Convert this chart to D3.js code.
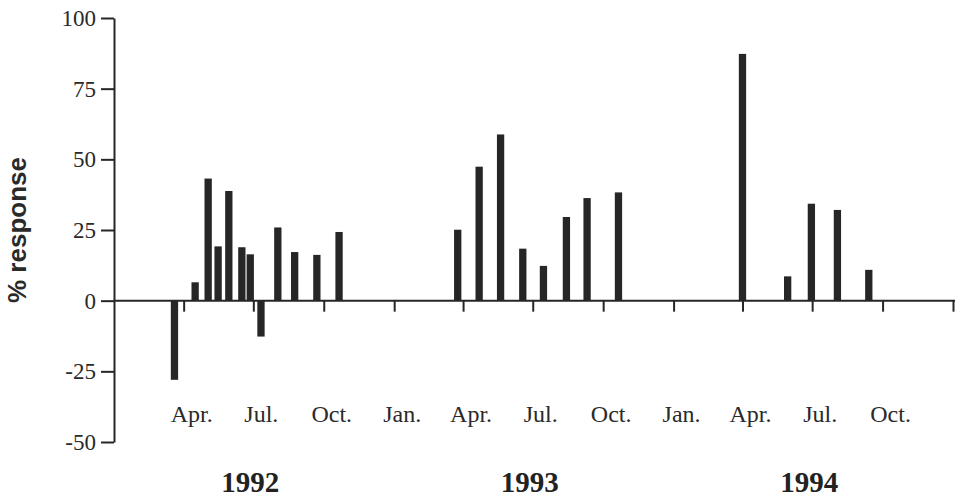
<!DOCTYPE html>
<html>
<head>
<meta charset="utf-8">
<script src="https://cdn.jsdelivr.net/npm/d3@7"></script>
<style>
  html, body { margin: 0; padding: 0; background: #fff; }
  svg { display: block; }
</style>
</head>
<body>
<svg id="chart" width="955" height="497"></svg>
<script>
// ---- data ----
const sampleDates = [
  "1992-03-20","1992-04-16","1992-05-03","1992-05-16","1992-05-30","1992-06-16",
  "1992-06-27","1992-07-11","1992-08-02","1992-08-24","1992-09-22","1992-10-21",
  "1993-03-25","1993-04-22","1993-05-20","1993-06-18","1993-07-15","1993-08-14",
  "1993-09-10","1993-10-21",
  "1994-04-01","1994-05-30","1994-06-30","1994-08-03","1994-09-13"
];
const responseValues = [
  -28, 6.5, 43.2, 19.2, 38.8, 18.9,
  16.4, -12.7, 25.9, 17.2, 16.2, 24.3,
  25.1, 47.4, 58.8, 18.4, 12.3, 29.6,
  36.3, 38.3,
  87.3, 8.6, 34.3, 32.1, 10.9
];
const yTickValues = [-50, -25, 0, 25, 50, 75, 100];
const monthTickDates = ["1992-04-01","1992-07-01","1992-10-01","1993-01-01","1993-04-01","1993-07-01",
  "1993-10-01","1994-01-01","1994-04-01","1994-07-01","1994-10-01","1995-01-01"];
const monthLabels = ["Apr.","Jul.","Oct.","Jan.","Apr.","Jul.","Oct.","Jan.","Apr.","Jul.","Oct.",""];
const yearLabels = ["1992","1993","1994"];
const yAxisTitle = "% response";

// ---- setup ----
const parse = d3.timeParse("%Y-%m-%d");
const data = sampleDates.map((d, i) => ({ date: parse(d), value: responseValues[i] }));
const svg = d3.select("#chart");
const ink = "#262626";

const x = d3.scaleTime()
  .domain([new Date(1992, 0, 1), new Date(1995, 0, 1)])
  .range([114, 953]);
const y = d3.scaleLinear().domain([-50, 100]).range([442, 18]);

// bars
const barW = 7.3;
svg.append("g").selectAll("rect").data(data).join("rect")
  .attr("x", d => x(d.date) - barW / 2)
  .attr("width", barW)
  .attr("y", d => y(Math.max(0, d.value)))
  .attr("height", d => Math.abs(y(d.value) - y(0)))
  .attr("fill", ink);

// y axis
const yAxis = svg.append("g")
  .attr("transform", `translate(${x.range()[0]},0)`)
  .call(d3.axisLeft(y).tickValues(yTickValues).tickSize(13).tickSizeOuter(0).tickPadding(5)
    .tickFormat(d => String(d)));
yAxis.select(".domain").attr("stroke", ink).attr("stroke-width", 2);
yAxis.selectAll(".tick line").attr("stroke", ink).attr("stroke-width", 2);
yAxis.selectAll(".tick text")
  .attr("font-family", "'Liberation Serif', 'Times New Roman', serif")
  .attr("font-size", 23).attr("fill", "#2a2a2a");

// x axis at zero
const monthDates = monthTickDates.map(parse);
const xAxis = svg.append("g")
  .attr("transform", `translate(0,${y(0)})`)
  .call(d3.axisBottom(x).tickValues(monthDates).tickSize(11).tickSizeOuter(0).tickFormat(""));
xAxis.select(".domain").attr("stroke", ink).attr("stroke-width", 2)
  .attr("d", `M${x.range()[0]},0H955`);
xAxis.selectAll(".tick line").attr("stroke", ink).attr("stroke-width", 2);

// month labels
svg.append("g").selectAll("text").data(monthDates).join("text")
  .attr("x", d => x(d) + 8)
  .attr("y", 422)
  .attr("text-anchor", "middle")
  .attr("font-family", "'Liberation Serif', 'Times New Roman', serif")
  .attr("font-size", 24).attr("fill", "#2a2a2a")
  .text((d, i) => monthLabels[i]);

// year labels
svg.append("g").selectAll("text").data(yearLabels).join("text")
  .attr("x", d => x(new Date(+d, 6, 1)) - 3)
  .attr("y", 492)
  .attr("text-anchor", "middle")
  .attr("font-family", "'Liberation Serif', 'Times New Roman', serif")
  .attr("font-weight", "bold")
  .attr("font-size", 29).attr("fill", "#222")
  .text(d => d);

// y title
svg.append("text")
  .attr("transform", "translate(26,230) rotate(-90)")
  .attr("text-anchor", "middle")
  .attr("font-family", "'Liberation Sans', Arial, sans-serif")
  .attr("font-weight", "bold")
  .attr("font-size", 26).attr("fill", "#2a2a2a")
  .text(yAxisTitle);
</script>
</body>
</html>
